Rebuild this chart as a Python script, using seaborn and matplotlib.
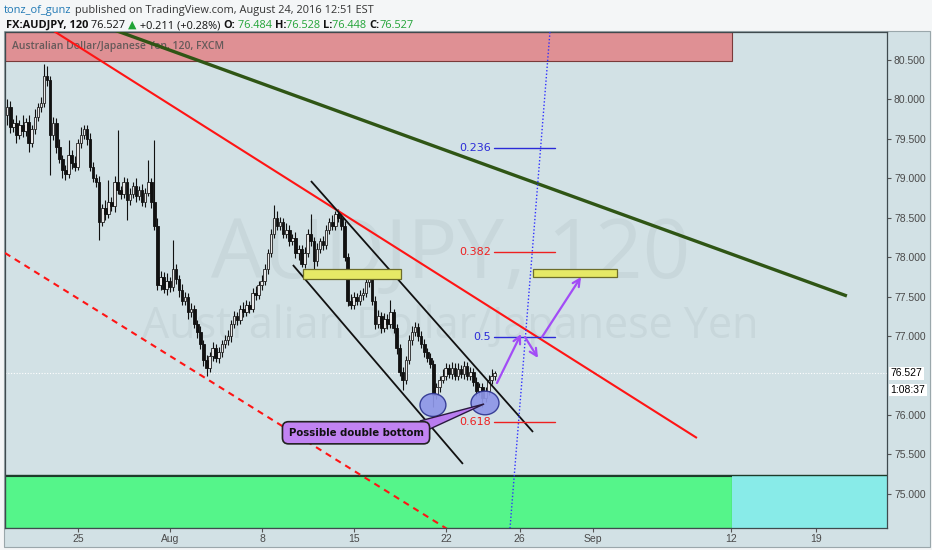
import numpy as np
import pandas as pd
import matplotlib
matplotlib.use("Agg")
import matplotlib.pyplot as plt
import seaborn as sns
from matplotlib.patches import Rectangle, Ellipse, Polygon

# --- price data: 4h bars, x in trading days from Mon Jul 25 ---
bar_start = -3.85
bar_step = 1 / 6
first_open = 79.80
closes = [
    79.90, 79.65, 79.70, 79.55, 79.68, 79.60, 79.72, 79.45, 79.62, 79.78,
    79.90, 79.95, 80.30, 80.25, 79.55, 79.70, 79.40, 79.25, 79.10, 79.05,
    79.30, 79.20, 79.15, 79.45, 79.55, 79.62, 79.50, 79.15, 79.00, 78.95,
    78.45, 78.62, 78.55, 78.70, 78.65, 78.95, 78.85, 78.80, 78.95, 78.72,
    78.80, 78.90, 78.78, 78.85, 78.70, 78.82, 78.95, 78.70, 78.40, 77.65,
    77.75, 77.60, 77.70, 77.62, 77.85, 77.72, 77.58, 77.45, 77.50, 77.30,
    77.35, 77.15, 77.05, 76.90, 76.70, 76.60, 76.75, 76.85, 76.72, 76.80,
    76.90, 76.95, 77.00, 77.15, 77.25, 77.20, 77.35, 77.30, 77.40, 77.35,
    77.55, 77.52, 77.65, 77.70, 77.85, 78.05, 78.30, 78.50, 78.40, 78.45,
    78.30, 78.35, 78.20, 78.25, 78.05, 78.10, 77.92, 78.05, 78.30, 78.20,
    77.95, 78.10, 78.20, 78.15, 78.35, 78.45, 78.40, 78.55, 78.50, 78.40,
    78.00, 77.45, 77.40, 77.50, 77.45, 77.52, 77.55, 77.68, 77.75, 77.45,
    77.15, 77.25, 77.10, 77.22, 77.15, 77.30, 77.10, 76.85, 76.55, 76.45,
    76.70, 76.95, 77.05, 77.12, 77.00, 76.90, 76.80, 76.72, 76.65, 76.25,
    76.35, 76.45, 76.50, 76.60, 76.52, 76.60, 76.50, 76.58, 76.52, 76.62,
    76.50, 76.55, 76.42, 76.30, 76.35, 76.22, 76.30, 76.45, 76.50, 76.527,
]
up_wick = [
    0.10, 0.08, 0.05, 0.10, 0.06, 0.12, 0.05, 0.08, 0.06, 0.10,
    0.05, 0.08, 0.15, 0.12, 0.05, 0.08, 0.06, 0.10, 0.05, 0.07,
    0.19, 0.06, 0.08, 0.05, 0.10, 0.06, 0.05, 0.08, 0.06, 0.05,
    0.08, 0.06, 0.10, 0.28, 0.06, 0.08, 0.66, 0.05, 0.07, 0.05,
    0.08, 0.06, 0.10, 0.05, 0.08, 0.06, 0.28, 0.05, 0.79, 0.10,
    0.08, 0.06, 0.10, 0.05, 0.37, 0.06, 0.05, 0.08, 0.06, 0.05,
    0.07, 0.05, 0.06, 0.08, 0.05, 0.06, 0.05, 0.07, 0.05, 0.06,
    0.05, 0.06, 0.08, 0.05, 0.07, 0.06, 0.05, 0.08, 0.06, 0.05,
    0.06, 0.08, 0.05, 0.07, 0.06, 0.05, 0.06, 0.16, 0.08, 0.06,
    0.05, 0.08, 0.06, 0.05, 0.07, 0.06, 0.05, 0.08, 0.06, 0.25,
    0.06, 0.08, 0.05, 0.07, 0.06, 0.05, 0.08, 0.04, 0.06, 0.05,
    0.06, 0.05, 0.08, 0.06, 0.05, 0.07, 0.06, 0.05, 0.06, 0.05,
    0.06, 0.08, 0.05, 0.07, 0.06, 0.16, 0.05, 0.06, 0.05, 0.06,
    0.05, 0.06, 0.08, 0.06, 0.05, 0.07, 0.06, 0.05, 0.06, 0.05,
    0.06, 0.05, 0.08, 0.06, 0.05, 0.07, 0.06, 0.08, 0.05, 0.06,
    0.05, 0.06, 0.05, 0.06, 0.05, 0.06, 0.05, 0.06, 0.08, 0.03,
]
down_wick = [
    0.12, 0.08, 0.06, 0.10, 0.05, 0.08, 0.06, 0.12, 0.05, 0.06,
    0.05, 0.06, 0.05, 0.08, 0.51, 0.06, 0.08, 0.05, 0.10, 0.07,
    0.05, 0.08, 0.06, 0.05, 0.06, 0.05, 0.08, 0.06, 0.05, 0.06,
    0.23, 0.06, 0.08, 0.05, 0.06, 0.08, 0.05, 0.06, 0.05, 0.25,
    0.06, 0.05, 0.08, 0.06, 0.05, 0.06, 0.05, 0.08, 0.05, 0.07,
    0.06, 0.05, 0.08, 0.06, 0.05, 0.06, 0.08, 0.05, 0.06, 0.08,
    0.06, 0.05, 0.07, 0.06, 0.08, 0.10, 0.05, 0.06, 0.05, 0.06,
    0.06, 0.05, 0.06, 0.08, 0.05, 0.06, 0.05, 0.06, 0.05, 0.06,
    0.05, 0.06, 0.05, 0.06, 0.05, 0.06, 0.05, 0.06, 0.05, 0.06,
    0.06, 0.05, 0.06, 0.05, 0.06, 0.08, 0.05, 0.06, 0.05, 0.06,
    0.21, 0.06, 0.05, 0.06, 0.05, 0.06, 0.05, 0.06, 0.05, 0.06,
    0.05, 0.07, 0.06, 0.05, 0.06, 0.05, 0.06, 0.05, 0.06, 0.05,
    0.06, 0.05, 0.06, 0.05, 0.06, 0.05, 0.06, 0.08, 0.06, 0.13,
    0.06, 0.05, 0.06, 0.05, 0.06, 0.05, 0.06, 0.05, 0.06, 0.15,
    0.05, 0.06, 0.05, 0.06, 0.05, 0.06, 0.05, 0.06, 0.05, 0.06,
    0.05, 0.06, 0.05, 0.06, 0.05, 0.12, 0.06, 0.05, 0.06, 0.05,
]

date_ticks = [0, 5, 10, 15, 20, 24, 28, 35.5, 40.1]
date_labels = ["25", "Aug", "8", "15", "22", "26", "Sep", "12", "19"]
# 76.500 sits under the last-price tag in the picture, so it is not listed
price_ticks = [75.0, 75.5, 76.0, 77.0, 77.5, 78.0, 78.5, 79.0, 79.5, 80.0, 80.5]
last_price = 76.527
x_range = (-3.97, 43.97)
y_range = (74.568, 80.855)

# --- drawings (day, price) ---
green_line = [(1.20, 80.946), (41.79, 77.509)]
red_line = [(-1.79, 80.937), (33.64, 75.709)]
red_dashed = [(-3.97, 78.054), (20.76, 74.454)]
channel_top = [(12.66, 78.966), (24.73, 75.785)]
channel_bottom = [(11.68, 77.902), (20.92, 75.380)]
blue_dotted = [(25.65, 80.855), (23.48, 74.568)]
zones = [(12.23, 17.55, 77.72, 77.85), (24.73, 29.29, 77.75, 77.85)]
fib_levels = [0.236, 0.382, 0.5, 0.618]
fib_prices = [79.39, 78.07, 76.99, 75.91]
fib_colors = ["#2b2bd8", "#ee2020", "#2b2bd8", "#ee2020"]
fib_span = (22.61, 25.92)
arrows = [((22.77, 76.406), (24.08, 77.027)),
          ((24.29, 76.989), (25.00, 76.723)),
          ((25.22, 76.989), (27.34, 77.750))]
bottoms = [(19.29, 76.127, 1.41, 0.29), (22.12, 76.153, 1.52, 0.30)]
top_band = (-3.97, 35.54, 80.487, 80.855)
bottom_band = (-3.97, 35.54, 74.568, 75.227)
future_band = (35.54, 43.97, 74.568, 75.240)

bg = "#d2e1e5"
sns.set_theme(style="white")
plt.rcParams["font.family"] = ["Liberation Sans", "DejaVu Sans"]

fig = plt.figure(figsize=(9.32, 5.5), dpi=100, facecolor="#f4f6f7")
W, H = 932, 550
fig.add_artist(Rectangle((4 / W, 1 - 547 / H), 926 / W, 516 / H, transform=fig.transFigure,
                         fc=bg, ec="#9aa7ab", lw=0.8, zorder=0))
ax = fig.add_axes([5 / W, 1 - 528 / H, 882 / W, 496 / H])
ax.set_facecolor(bg)
ax.set_xlim(*x_range)
ax.set_ylim(*y_range)

# bands
ax.add_patch(Rectangle((top_band[0], top_band[2]), top_band[1] - top_band[0], top_band[3] - top_band[2],
                       fc="#df9094", ec="#7a3a3a", lw=0.8, zorder=1))
ax.add_patch(Rectangle((bottom_band[0], bottom_band[2]), bottom_band[1] - bottom_band[0],
                       bottom_band[3] - bottom_band[2], fc="#55f58a", ec="#1d3b2a", lw=0.8, zorder=1))
ax.add_patch(Rectangle((future_band[0], future_band[2]), future_band[1] - future_band[0],
                       future_band[3] - future_band[2], fc="#88ebe8", ec="none", zorder=1))
ax.axhline(future_band[3], color="#1d3b2a", lw=1.0, zorder=1.5)
ax.text(-3.6, 80.67, "Australian Dollar/Japanese Yen, 120, FXCM", fontsize=7.5, color="#665a5a",
        family=["Open Sans", "DejaVu Sans"], fontweight="semibold", va="center", zorder=2)

# watermark
ax.text(0.505, 0.546, "AUDJPY, 120", transform=ax.transAxes, fontsize=60, color="#c8d7db",
        ha="center", va="center", family=["Open Sans", "DejaVu Sans"], zorder=1.2)
ax.text(0.505, 0.405, "Australian Dollar/Japanese Yen", transform=ax.transAxes, fontsize=31,
        color="#c8d7db", ha="center", va="center", family=["Open Sans", "DejaVu Sans"], zorder=1.2)

# candles
df = pd.DataFrame({"close": closes, "up": up_wick, "down": down_wick})
df["x"] = bar_start + bar_step * np.arange(len(df))
df["open"] = df["close"].shift(1).fillna(first_open)
df["top"] = df[["open", "close"]].max(axis=1)
df["bot"] = df[["open", "close"]].min(axis=1)
df["high"] = df["top"] + df["up"]
df["low"] = df["bot"] - df["down"]
ax.vlines(df["x"], df["low"], df["high"], color="#111111", lw=0.8, zorder=3)
rising = df["close"] >= df["open"]
ax.bar(df["x"][rising], (df["top"] - df["bot"])[rising].clip(lower=0.015), bottom=df["bot"][rising],
       width=0.14, color="#e8e8e8", edgecolor="#222222", lw=0.6, zorder=3.1)
ax.bar(df["x"][~rising], (df["top"] - df["bot"])[~rising].clip(lower=0.015), bottom=df["bot"][~rising],
       width=0.14, color="#111111", edgecolor="#111111", lw=0.6, zorder=3.1)

ax.axhline(last_price, color="white", ls=(0, (1, 1.5)), lw=0.8, zorder=2)

# trend lines
def seg(pts, **kw):
    ax.plot([p[0] for p in pts], [p[1] for p in pts], solid_capstyle="butt", **kw)

seg(green_line, color="#2f5515", lw=2.4, zorder=4)
seg(red_line, color="#ff1414", lw=1.5, zorder=4)
seg(red_dashed, color="#ff1414", lw=1.5, ls=(0, (3, 2.5)), zorder=4)
seg(channel_top, color="#111111", lw=1.3, zorder=4)
seg(channel_bottom, color="#111111", lw=1.3, zorder=4)
seg(blue_dotted, color="#3030ff", lw=1.0, ls=(0, (1, 1.5)), zorder=4)

for x0, x1, y0, y1 in zones:
    ax.add_patch(Rectangle((x0, y0), x1 - x0, y1 - y0, fc="#e6e966", ec="#6d6d2a", lw=0.9, zorder=4.2))

for lvl, pr, col in zip(fib_levels, fib_prices, fib_colors):
    ax.plot(fib_span, [pr, pr], color=col, lw=1.0, zorder=4.1)
    ax.text(fib_span[0] - 0.18, pr, f"{lvl:g}", color=col, fontsize=8, ha="right", va="center",
            family="DejaVu Sans", zorder=4.1)

for start, end in arrows:
    ax.annotate("", xy=end, xytext=start,
                arrowprops=dict(arrowstyle="->", color="#a24cf6", lw=1.6, mutation_scale=13,
                                shrinkA=0, shrinkB=0), zorder=5)

for cx, cy, w, h in bottoms:
    ax.add_patch(Ellipse((cx, cy), w, h, fc="#8e96e8", ec="#2e3590", lw=1.0, alpha=0.92, zorder=4.5))

ax.add_patch(Polygon([(18.59, 75.925), (19.13, 75.824), (22.07, 76.14)], closed=True,
                     fc="#b97cf0", ec="#2a1a40", lw=1.0, zorder=5))
ax.text(15.11, 75.775, "Possible double bottom", fontsize=7.3, fontweight="bold", color="#111111",
        ha="center", va="center", family="DejaVu Sans", zorder=5.5,
        bbox=dict(boxstyle="round,pad=0.6,rounding_size=0.6", fc="#c183f2", ec="#222222", lw=1.2))

# axes
ax.yaxis.tick_right()
ax.set_yticks(price_ticks)
ax.set_yticklabels([f"{p:.3f}" for p in price_ticks])
ax.set_xticks(date_ticks)
ax.set_xticklabels(date_labels)
ax.tick_params(axis="y", right=True, length=3, width=0.8, color="#555555", labelsize=7.5,
               labelcolor="#4a4a4a", pad=2)
ax.tick_params(axis="x", bottom=True, length=3, width=0.8, color="#555555", labelsize=7.5,
               labelcolor="#4a4a4a", pad=1.5)
for s in ax.spines.values():
    s.set_color("#3f4a4e")
    s.set_linewidth(0.9)

# last price label
yf = (last_price - y_range[0]) / (y_range[1] - y_range[0])
ax.text(1.004, yf, "76.527", transform=ax.transAxes, fontsize=7.5, color="black", va="center",
        ha="left", bbox=dict(boxstyle="square,pad=0.12", fc="white", ec="none"))
ax.text(1.004, yf - 0.033, "1:08:37", transform=ax.transAxes, fontsize=7.5, color="black",
        va="center", ha="left", bbox=dict(boxstyle="square,pad=0.12", fc="white", ec="none"))

# header
hf = ["Open Sans", "DejaVu Sans"]
def chain(parts, x, y):
    prev = fig.text(x, y, parts[0][0], color=parts[0][1], fontweight=parts[0][2],
                    fontsize=7.9, family=hf, va="baseline")
    for s, c, wgt in parts[1:]:
        prev = ax.annotate(s, xy=(1, 0), xycoords=prev, color=c, fontweight=wgt,
                           fontsize=7.9, family=hf, va="bottom", annotation_clip=False)

chain([("tonz_of_gunz", "#1f78b4", "normal"),
       (" published on TradingView.com, August 24, 2016 12:51 EST", "#333333", "normal")],
      4 / W, 1 - 13 / H)
g = "#21a336"
chain([("FX:AUDJPY, 120", "#111111", "bold"), (" 76.527 ", "#111111", "normal"),
       ("▲", g, "normal"), (" +0.211 (+0.28%) ", "#111111", "normal"),
       ("O:", "#111111", "bold"), (" 76.484 ", g, "normal"),
       ("H:", "#111111", "bold"), ("76.528 ", g, "normal"),
       ("L:", "#111111", "bold"), ("76.448 ", g, "normal"),
       ("C:", "#111111", "bold"), ("76.527", g, "normal")],
      6 / W, 1 - 28 / H)

fig.savefig("out.png", dpi=100, facecolor=fig.get_facecolor())
